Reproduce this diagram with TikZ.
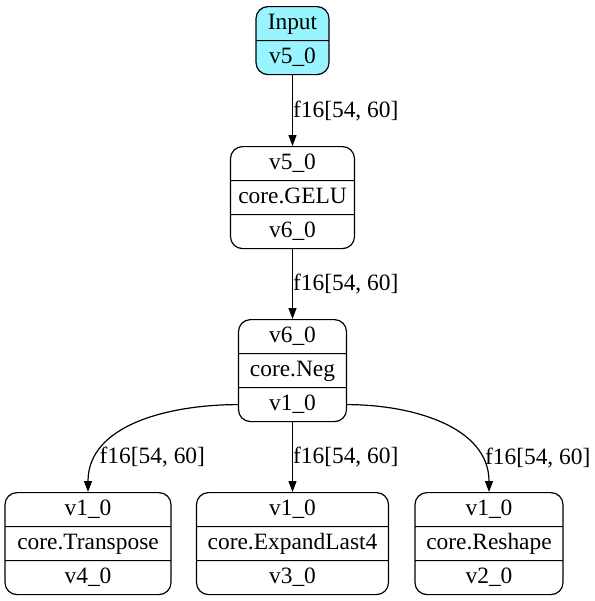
\documentclass[tikz,border=0pt]{standalone}
\usepackage{fontspec}
\setmainfont{Liberation Serif}
\usetikzlibrary{shapes.multipart,arrows.meta}
\definecolor{gvcyan}{RGB}{152,245,255}
\newcommand{\rowstrut}{\rule[-3.3pt]{0pt}{12pt}}

\begin{document}
\begin{tikzpicture}[x=0.5pt, y=-0.5pt,
  rec/.style={rectangle split, rectangle split parts=3, draw, rounded corners=6pt, line width=0.6pt, font=\fontsize{11.7}{13}\selectfont, inner ysep=2.2pt, inner xsep=2pt, anchor=north},
  lbl/.style={font=\fontsize{11.7}{13}\selectfont, inner sep=0pt},
  edge/.style={-{Triangle[length=5.5pt,width=4pt]}, line width=0.6pt}]
\useasboundingbox (0,0) rectangle (595,601);
\node[rec, rectangle split parts=2, fill=gvcyan, minimum width=36.5pt] (inp) at (292.5,6) {\rowstrut Input\nodepart{two}\rowstrut v5\_0};
\node[rec, minimum width=62pt] (gelu) at (292.5,146) {\rowstrut v5\_0\nodepart{two}\rowstrut core.GELU\nodepart{three}\rowstrut v6\_0};
\node[rec, minimum width=54pt] (neg) at (292.5,319) {\rowstrut v6\_0\nodepart{two}\rowstrut core.Neg\nodepart{three}\rowstrut v1\_0};
\node[rec, minimum width=83pt] (tr) at (88,492) {\rowstrut v1\_0\nodepart{two}\rowstrut core.Transpose\nodepart{three}\rowstrut v4\_0};
\node[rec, minimum width=96pt] (exp) at (292.5,492) {\rowstrut v1\_0\nodepart{two}\rowstrut core.ExpandLast4\nodepart{three}\rowstrut v3\_0};
\node[rec, minimum width=74pt] (rs) at (489,492) {\rowstrut v1\_0\nodepart{two}\rowstrut core.Reshape\nodepart{three}\rowstrut v2\_0};
\draw[edge] (inp.south) -- node[lbl, right] {f16[54, 60]} (gelu.north);
\draw[edge] (gelu.south) -- node[lbl, right] {f16[54, 60]} (neg.north);
\draw[edge] (neg.three west) to[out=180, in=90] node[lbl, pos=0.8, right=1pt] {f16[54, 60]} (tr.north);
\draw[edge] (neg.south) -- node[lbl, right] {f16[54, 60]} (exp.north);
\draw[edge] (neg.three east) to[out=0, in=90] node[lbl, pos=0.8, right=2pt] {f16[54, 60]} (rs.north);
\end{tikzpicture}
\end{document}
